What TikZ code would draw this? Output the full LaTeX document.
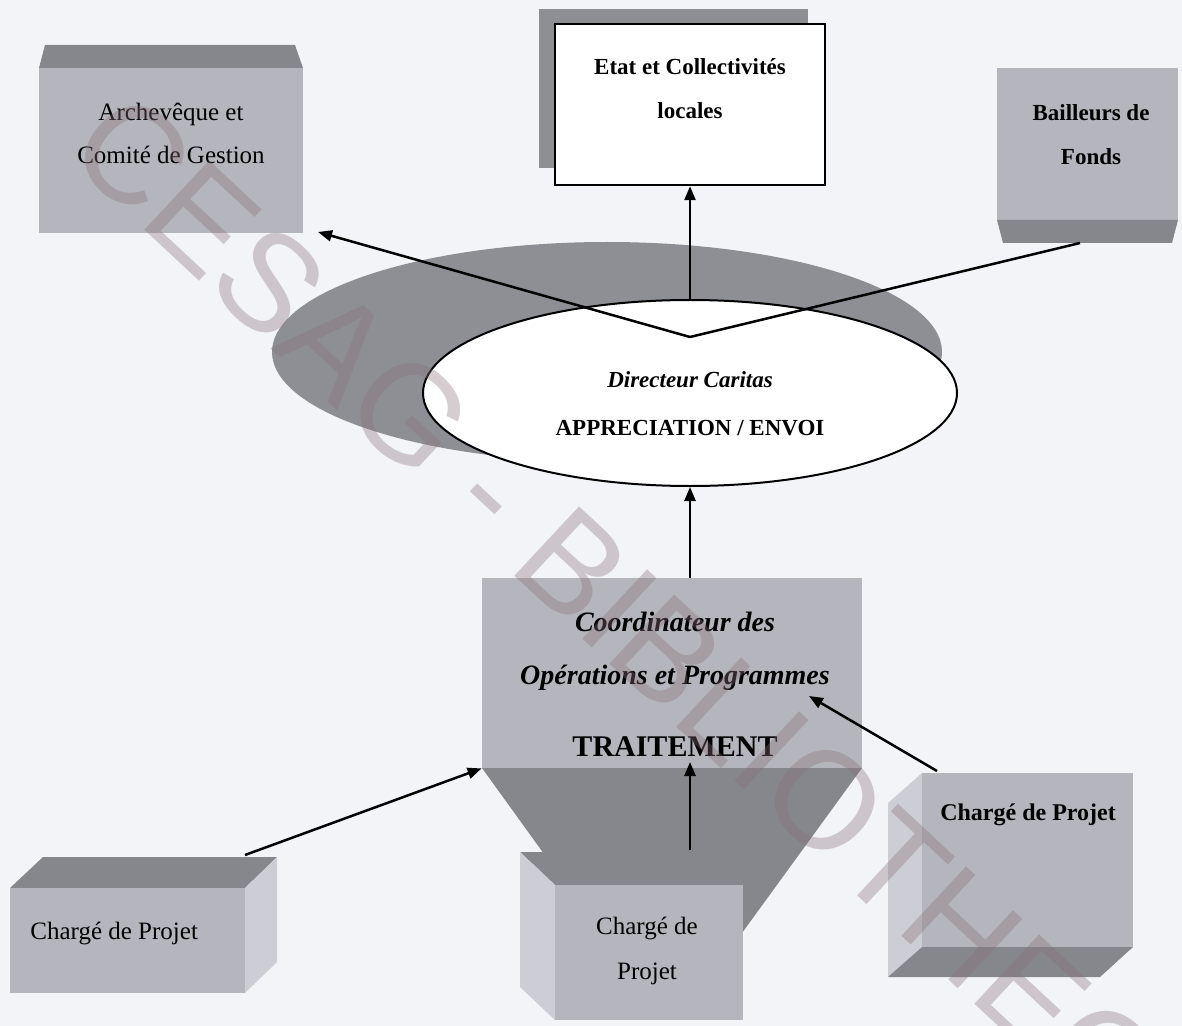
\documentclass[tikz,border=0pt]{standalone}
\usepackage{fontspec}
\setmainfont{Liberation Serif}
\newfontfamily\wmfont{Liberation Sans}
\usetikzlibrary{arrows.meta,shapes.geometric}
\definecolor{bg}{HTML}{F2F4F8}
\definecolor{face}{HTML}{B5B6BD}
\definecolor{dark}{HTML}{86878D}
\definecolor{light}{HTML}{CDCED5}
\definecolor{shadowc}{HTML}{8E8F95}
\definecolor{wm}{RGB}{135,112,120}
\tikzset{
  arr/.style={line width=1.25pt,-{Triangle[length=7pt,width=5.5pt]}},
  conn/.style={line width=1.25pt},
  lbl/.style={inner sep=0pt,align=center,text=black},
  reg/.style={lbl,font=\fontsize{12.5}{21.5}\selectfont},
  bld/.style={lbl,font=\bfseries\fontsize{11.5}{22}\selectfont},
  bldit/.style={lbl,font=\bfseries\itshape\fontsize{11.5}{22}\selectfont},
}
\begin{document}
\begin{tikzpicture}[x=0.5pt,y=-0.5pt]
\useasboundingbox (0,0) rectangle (1182,1026);
\fill[bg] (0,0) rectangle (1182,1026);

% Archeveque
\fill[dark] (45,45) -- (295,45) -- (303,68) -- (39,68) -- cycle;
\fill[face] (39,68) rectangle (303,233);
\node[reg] (arch) at (171,133.5) {Archevêque et\\Comité de Gestion};
\coordinate (archtip) at (318,232);

% Etat
\fill[shadowc] (539,9) rectangle (808,168);
\node[draw, line width=1.2pt, fill=white, minimum width=135pt, minimum height=80.5pt, inner sep=0pt] (etatbox) at (690,104.5) {};
\node[bld] (etat) at (690,89) {Etat et Collectivités\\locales};

% Bailleurs
\fill[face] (997,68) rectangle (1178,220);
\fill[dark] (997,220) -- (1178,220) -- (1172,243) -- (1003,243) -- cycle;
\node[bld] (bail) at (1091,134.5) {Bailleurs de\\Fonds};
\coordinate (bailfoot) at (1080,243);

% Directeur
\fill[shadowc] (607,352) ellipse [x radius=167.5pt, y radius=55pt];
\node[ellipse, draw, line width=1pt, fill=white, minimum width=267pt, minimum height=93pt, inner sep=0pt] (dir) at (690,393) {};
\node[bldit] (dirtxt) at (690,380) {Directeur Caritas};
\node[bld] (appr) at (690,428) {APPRECIATION / ENVOI};
\coordinate (vpt) at (690,337);

\draw[arr] (vpt) -- (archtip);
\draw[conn] (vpt) -- (bailfoot);
\draw[arr] (dir.north) -- (etatbox.south);

% Coordinateur
\node[fill=face, minimum width=190pt, minimum height=95pt, inner sep=0pt] (coordbox) at (672,673) {};
\fill[dark] (482,768) -- (862,768) -- (742,933) -- (601,933) -- cycle;
\node[lbl, font=\bfseries\itshape\fontsize{14}{26.5}\selectfont] (coordtxt) at (675,651.5) {Coordinateur des\\Opérations et Programmes};
\node[lbl, font=\bfseries\fontsize{15}{18}\selectfont] (trait) at (675,747) {TRAITEMENT};
\draw[arr] (dir.south |- coordbox.north) -- (dir.south);

% Charge de Projet (middle)
\fill[dark] (520,852) -- (708,852) -- (743,885) -- (555,885) -- cycle;
\fill[light] (520,852) -- (555,885) -- (555,1020) -- (520,987) -- cycle;
\fill[face] (555,885) rectangle (743,1020);
\node[lbl, font=\fontsize{12.5}{22.5}\selectfont] (cp2) at (647,950.5) {Chargé de\\Projet};

% Charge de Projet (left)
\fill[dark] (43,857) -- (277,857) -- (245,888) -- (10,888) -- cycle;
\fill[light] (245,888) -- (277,857) -- (277,962) -- (245,993) -- cycle;
\fill[face] (10,888) rectangle (245,993);
\node[reg, anchor=west] (cp1) at (30,933) {Chargé de Projet};

% Charge de Projet (right)
\fill[light] (922,773) -- (888,803) -- (888,977) -- (922,947) -- cycle;
\fill[face] (922,773) rectangle (1133,947);
\fill[dark] (922,947) -- (1133,947) -- (1100,977) -- (888,977) -- cycle;
\node[lbl, font=\bfseries\fontsize{12}{22}\selectfont] (cp3) at (1028,815) {Chargé de Projet};

% connectors to coordinateur
\coordinate (c1) at (245,855);
\draw[arr] (c1) -- (coordbox.south west);
\coordinate (c3) at (937,771);
\coordinate (c3tip) at (809,696);
\draw[arr] (c3) -- (c3tip);
\coordinate (c2) at (690,850);
\coordinate (c2tip) at (690,762);
\draw[arr] (c2) -- (c2tip);

% watermark
\node[font=\wmfont\fontsize{69}{69}\selectfont, text=wm, text opacity=0.35, rotate=-43, anchor=west, inner sep=0pt] (wmark) at (87,129) {CESAG - BIBLIOTHEQUE};
\end{tikzpicture}
\end{document}
